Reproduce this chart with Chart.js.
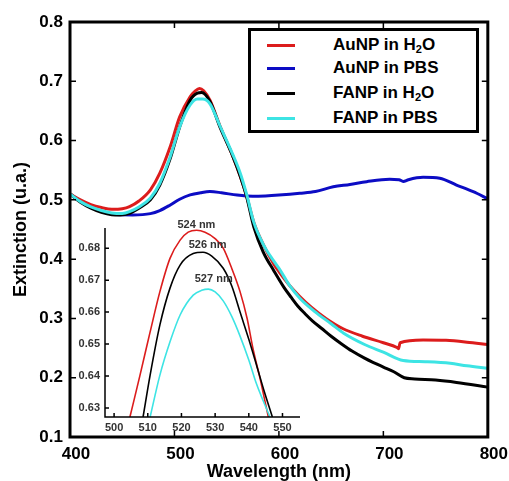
<!DOCTYPE html>
<html>
<head>
<meta charset="utf-8">
<script src="https://cdn.jsdelivr.net/npm/chart.js@4.4.1/dist/chart.umd.min.js"></script>
<style>
  html, body { margin: 0; padding: 0; background: #fff; }
  #wrap { position: relative; width: 509px; height: 481px; overflow: hidden; }
  #mainChart { position: absolute; left: 0; top: 0; }
  #insetChart { position: absolute; left: 70px; top: 215px; }
  #legend {
    position: absolute; left: 248px; top: 28px; width: 225px; height: 99px;
    border: 3px solid #000; background: #fff;
    font: bold 17px "Liberation Sans", Arial, sans-serif; color: #000;
  }
  #legend .row { position: absolute; left: 0; width: 100%; height: 22px; }
  #legend .swatch { position: absolute; left: 16px; top: 10px; width: 28px; height: 3px; }
  #legend .lbl { position: absolute; left: 82px; top: 0; line-height: 22px; white-space: nowrap; }
  #legend sub { font-size: 11px; line-height: 0; vertical-align: -3px; }
</style>
</head>
<body>
<div id="wrap">
  <canvas id="mainChart" width="509" height="481"></canvas>
  <canvas id="insetChart" width="240" height="225"></canvas>
  <div id="legend"></div>
</div>
<script>
// ---- data ----
const seriesNames = ['AuNP in H2O', 'AuNP in PBS', 'FANP in H2O', 'FANP in PBS'];
const seriesColors = ['#dc1c1c', '#0c0cc4', '#000000', '#3de4e4'];

const xTicks = [400, 500, 600, 700, 800];
const yTicks = [0.1, 0.2, 0.3, 0.4, 0.5, 0.6, 0.7, 0.8];

// AuNP in H2O (red)
const auH2oNm  = [400, 410, 420, 430, 440, 450, 457, 466, 477, 486, 496, 505, 515, 520, 524, 528, 534, 543.5, 556, 563, 569, 576, 585, 595, 600, 610, 620, 631, 645, 661, 680, 700, 713, 714.5, 716, 738, 760, 780, 800];
const auH2oExt = [0.510, 0.500, 0.492, 0.487, 0.484, 0.485, 0.4885, 0.498, 0.517, 0.545, 0.590, 0.640, 0.674, 0.684, 0.688, 0.684, 0.668, 0.625, 0.573, 0.540, 0.507, 0.462, 0.425, 0.392, 0.379, 0.356, 0.337, 0.319, 0.300, 0.283, 0.270, 0.259, 0.251, 0.249, 0.259, 0.2637, 0.263, 0.260, 0.256];

// AuNP in PBS (blue)
const auPbsNm  = [400, 420, 440, 460, 477, 486, 496, 505, 515, 525, 534, 545, 560, 575, 587, 600, 620, 635, 652, 668, 684, 706, 715, 719, 724, 738, 754, 770, 786, 800];
const auPbsExt = [0.510, 0.488, 0.476, 0.4745, 0.4768, 0.482, 0.4914, 0.501, 0.5083, 0.512, 0.514, 0.512, 0.508, 0.506, 0.5066, 0.508, 0.511, 0.514, 0.522, 0.526, 0.5307, 0.5347, 0.534, 0.531, 0.534, 0.538, 0.5364, 0.525, 0.5138, 0.502];

// FANP in H2O (black)
const faH2oNm  = [400, 410, 420, 430, 440, 448, 457, 466, 477, 486, 496, 505, 515, 522, 526, 534, 543.5, 556, 563, 569, 576, 585, 595, 605, 612, 618, 625, 632, 641, 650, 660, 670, 682, 690, 700, 710, 720, 730, 750, 770, 800];
const faH2oExt = [0.510, 0.496, 0.486, 0.479, 0.475, 0.4745, 0.4774, 0.486, 0.500, 0.525, 0.570, 0.623, 0.668, 0.680, 0.681, 0.666, 0.623, 0.573, 0.540, 0.506, 0.454, 0.412, 0.381, 0.352, 0.335, 0.321, 0.308, 0.296, 0.283, 0.270, 0.257, 0.245, 0.233, 0.226, 0.218, 0.210, 0.200, 0.198, 0.196, 0.192, 0.184];

// FANP in PBS (cyan)
const faPbsNm  = [400, 410, 420, 430, 440, 450, 457, 466, 477, 486, 496, 505, 515, 522, 527, 534, 543.5, 556, 563, 569, 576, 585, 595, 601, 610, 620, 634, 650, 662, 682, 700, 719, 740, 764, 780, 800];
const faPbsExt = [0.510, 0.497, 0.488, 0.482, 0.478, 0.477, 0.480, 0.488, 0.503, 0.528, 0.573, 0.623, 0.660, 0.670, 0.670, 0.662, 0.625, 0.576, 0.545, 0.510, 0.462, 0.425, 0.397, 0.382, 0.356, 0.334, 0.312, 0.291, 0.275, 0.256, 0.243, 0.229, 0.227, 0.2245, 0.220, 0.216];

// inset (zoom on the plasmon peak)
const insetXTicks = [500, 510, 520, 530, 540, 550];
const insetYTicks = [0.63, 0.64, 0.65, 0.66, 0.67, 0.68];

const insetAuH2oNm  = [504.7, 507.7, 510.7, 513.6, 516.6, 519.6, 522, 524.5, 527, 530, 532.4, 535, 537.4, 539.5, 541.2, 543.5, 545.8];
const insetAuH2oExt = [0.6272, 0.6403, 0.6538, 0.6664, 0.6768, 0.6825, 0.6850, 0.6856, 0.6850, 0.6830, 0.6800, 0.6735, 0.6664, 0.6580, 0.6488, 0.6385, 0.6272];

const insetFaH2oNm  = [508.6, 510.7, 513.6, 516.6, 519.6, 523.5, 526.4, 529, 532.4, 535, 537.4, 540, 542.3, 544.5, 547];
const insetFaH2oExt = [0.6272, 0.6403, 0.6560, 0.6675, 0.6747, 0.6783, 0.6787, 0.6775, 0.6737, 0.6680, 0.6600, 0.6515, 0.6434, 0.6355, 0.6272];

const insetFaPbsNm  = [510.7, 513.6, 516.6, 519.6, 523.5, 526, 528, 530, 532.4, 535, 537.4, 540, 542.3, 544.3, 546.3];
const insetFaPbsExt = [0.6272, 0.6403, 0.6507, 0.6591, 0.6653, 0.6668, 0.6672, 0.6663, 0.6635, 0.6585, 0.6525, 0.6450, 0.6375, 0.6322, 0.6272];

const peakLabels = ['524 nm', '526 nm', '527 nm'];
const peakNm     = [524, 526, 527.5];
const peakExt    = [0.6856, 0.6787, 0.6672];

// ---- helpers ----
Chart.defaults.font.family = '"Liberation Sans", Arial, sans-serif';
Chart.defaults.color = '#000';

function toPoints(xs, ys) {
    return xs.map((x, i) => ({ x: x, y: ys[i] }));
}

function buildLegend() {
    const box = document.getElementById('legend');
    const rowTops = [3, 26, 51, 76];
    seriesNames.forEach((name, i) => {
        const row = document.createElement('div');
        row.className = 'row';
        row.style.top = rowTops[i] + 'px';
        row.innerHTML = `<div class="swatch" style="background:${seriesColors[i]}"></div>
            <div class="lbl">${name.replace('H2O', 'H<sub>2</sub>O')}</div>`;
        box.appendChild(row);
    });
}

// frame around the plot + inward ticks on all four sides
const framePlugin = {
    id: 'frame',
    afterDatasetsDraw(chart) {
        const { ctx, chartArea: a, scales: { x, y } } = chart;
        ctx.save();
        ctx.strokeStyle = '#000';
        ctx.lineWidth = 1.5;
        ctx.beginPath();
        xTicks.slice(1, -1).forEach(v => {
            const px = x.getPixelForValue(v);
            ctx.moveTo(px, a.bottom); ctx.lineTo(px, a.bottom - 6);
            ctx.moveTo(px, a.top); ctx.lineTo(px, a.top + 6);
        });
        yTicks.slice(1, -1).forEach(v => {
            const py = y.getPixelForValue(v);
            ctx.moveTo(a.left, py); ctx.lineTo(a.left + 6, py);
            ctx.moveTo(a.right, py); ctx.lineTo(a.right - 6, py);
        });
        ctx.stroke();
        ctx.lineWidth = 3;
        ctx.strokeRect(a.left, a.top, a.right - a.left, a.bottom - a.top);
        ctx.restore();
    }
};

// inset axes + peak labels
const insetPlugin = {
    id: 'insetAxes',
    afterDatasetsDraw(chart) {
        const { ctx, chartArea: a, scales: { x, y } } = chart;
        ctx.save();
        ctx.strokeStyle = '#000';
        ctx.lineWidth = 1.5;
        ctx.beginPath();
        ctx.moveTo(a.left, a.top); ctx.lineTo(a.left, a.bottom); ctx.lineTo(a.right, a.bottom);
        insetXTicks.forEach(v => {
            const px = x.getPixelForValue(v);
            ctx.moveTo(px, a.bottom); ctx.lineTo(px, a.bottom - 4);
        });
        insetYTicks.forEach(v => {
            const py = y.getPixelForValue(v);
            ctx.moveTo(a.left, py); ctx.lineTo(a.left + 4, py);
        });
        ctx.stroke();

        const dx = [1.5, 6, 7];
        const dy = [-5, -7, -10];
        ctx.fillStyle = '#333';
        ctx.font = 'bold 11px "Liberation Sans", Arial, sans-serif';
        ctx.textAlign = 'center';
        ctx.textBaseline = 'middle';
        peakLabels.forEach((t, i) => {
            ctx.fillText(t, x.getPixelForValue(peakNm[i]) + dx[i], y.getPixelForValue(peakExt[i]) + dy[i]);
        });
        ctx.restore();
    }
};

function lineSet(label, color, xs, ys, width, order) {
    return {
        label: label,
        data: toPoints(xs, ys),
        borderColor: color,
        backgroundColor: color,
        borderWidth: width,
        pointRadius: 0,
        fill: false,
        cubicInterpolationMode: 'monotone',
        order: order,
    };
}

// ---- main chart ----
new Chart(document.getElementById('mainChart'), {
    type: 'line',
    data: {
        datasets: [
            lineSet(seriesNames[0], seriesColors[0], auH2oNm, auH2oExt, 3, 2),
            lineSet(seriesNames[1], seriesColors[1], auPbsNm, auPbsExt, 3, 3),
            lineSet(seriesNames[2], seriesColors[2], faH2oNm, faH2oExt, 3, 1),
            lineSet(seriesNames[3], seriesColors[3], faPbsNm, faPbsExt, 3, 0),
        ],
    },
    options: {
        responsive: false,
        animation: false,
        layout: { padding: { top: 22, right: 21, left: 0, bottom: 0 } },
        plugins: { legend: { display: false }, tooltip: { enabled: false } },
        scales: {
            x: {
                type: 'linear', min: 400, max: 800,
                afterBuildTicks: s => { s.ticks = xTicks.map(v => ({ value: v })); },
                afterFit: s => { s.height = 44; },
                grid: { display: false, drawTicks: false },
                border: { display: false },
                ticks: { font: { size: 17, weight: 'bold' }, color: '#000', padding: 7, labelOffset: 6, maxRotation: 0 },
                title: { display: true, text: 'Wavelength (nm)', font: { size: 18, weight: 'bold', lineHeight: 1.05 }, color: '#000', padding: { top: 0, bottom: 0 } },
            },
            y: {
                type: 'linear', min: 0.1, max: 0.8,
                afterBuildTicks: s => { s.ticks = yTicks.map(v => ({ value: v })); },
                afterFit: s => { s.width = 70; },
                grid: { display: false, drawTicks: false },
                border: { display: false },
                ticks: { font: { size: 17, weight: 'bold' }, color: '#000', padding: 7, callback: v => v.toFixed(1) },
                title: { display: true, text: 'Extinction (u.a.)', font: { size: 18, weight: 'bold' }, color: '#000', padding: { top: 10, bottom: 0 } },
            },
        },
    },
    plugins: [framePlugin],
});

// ---- inset chart ----
new Chart(document.getElementById('insetChart'), {
    type: 'line',
    data: {
        datasets: [
            lineSet(seriesNames[0], seriesColors[0], insetAuH2oNm, insetAuH2oExt, 1.6, 2),
            lineSet(seriesNames[2], seriesColors[2], insetFaH2oNm, insetFaH2oExt, 1.6, 1),
            lineSet(seriesNames[3], seriesColors[3], insetFaPbsNm, insetFaPbsExt, 1.6, 0),
        ],
    },
    options: {
        responsive: false,
        animation: false,
        layout: { padding: { top: 13, right: 10, left: 0, bottom: 0 } },
        plugins: { legend: { display: false }, tooltip: { enabled: false } },
        scales: {
            x: {
                type: 'linear', min: 497.3, max: 555.2,
                afterBuildTicks: s => { s.ticks = insetXTicks.map(v => ({ value: v })); },
                afterFit: s => { s.height = 23; },
                grid: { display: false, drawTicks: false },
                border: { display: false },
                ticks: { font: { size: 11, weight: 'bold' }, color: '#333', padding: 4, maxRotation: 0 },
            },
            y: {
                type: 'linear', min: 0.6272, max: 0.6863,
                afterBuildTicks: s => { s.ticks = insetYTicks.map(v => ({ value: v })); },
                afterFit: s => { s.width = 35; },
                grid: { display: false, drawTicks: false },
                border: { display: false },
                ticks: { font: { size: 11, weight: 'bold' }, color: '#333', padding: 5, callback: v => v.toFixed(2) },
            },
        },
    },
    plugins: [insetPlugin],
});

buildLegend();
</script>
</body>
</html>
